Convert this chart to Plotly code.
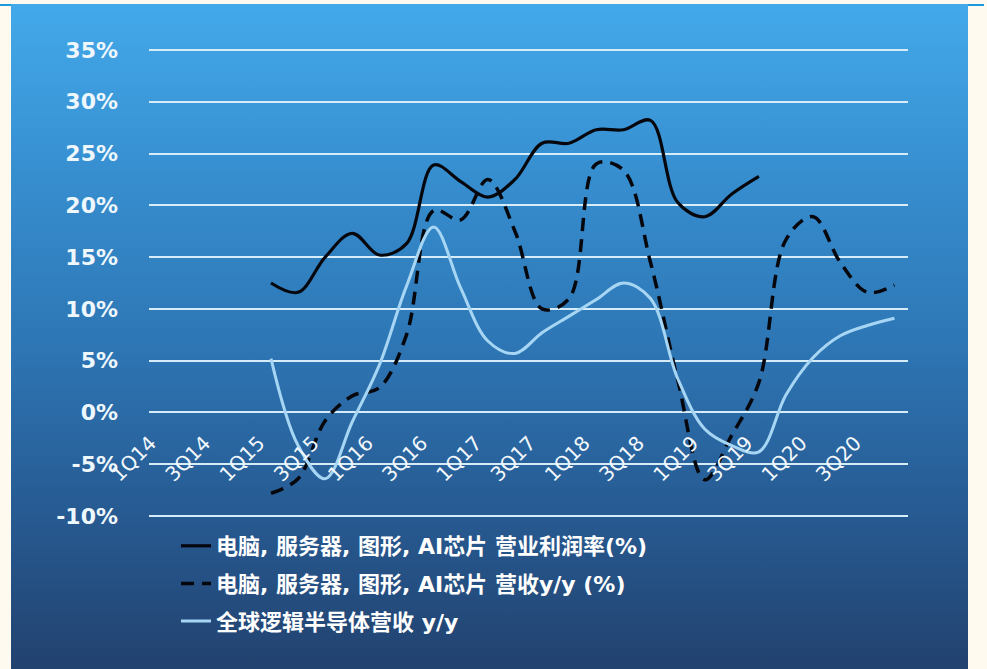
import base64
import plotly.graph_objects as go

# ---------------- data ----------------
quarters = ['1Q14', '2Q14', '3Q14', '4Q14', '1Q15', '2Q15', '3Q15', '4Q15',
            '1Q16', '2Q16', '3Q16', '4Q16', '1Q17', '2Q17', '3Q17', '4Q17',
            '1Q18', '2Q18', '3Q18', '4Q18', '1Q19', '2Q19', '3Q19', '4Q19',
            '1Q20', '2Q20', '3Q20', '4Q20']
tick_labels = ['1Q14', '3Q14', '1Q15', '3Q15', '1Q16', '3Q16', '1Q17',
               '3Q17', '1Q18', '3Q18', '1Q19', '3Q19', '1Q20', '3Q20']

op_margin = [None, None, None, None, 12.5, 11.6, 15.0, 17.3, 15.2, 16.3,
             23.9, 22.3, 20.8, 22.5, 26.0, 26.0, 27.3, 27.3, 28.2, 20.3,
             18.9, 21.1, 22.8, None, None, None, None, None]
rev_yoy = [None, None, None, None, -7.8, -6.4, -0.8, 1.6, 2.4, 7.5,
           19.5, 18.6, 22.5, 17.5, 10.0, 11.0, 24.0, 23.4, 14.5, 3.2,
           -6.5, -2.2, 2.9, 16.7, 18.9, 14.5, 11.6, 12.3]
logic_yoy = [None, None, None, None, 5.2, -3.2, -6.4, -0.9, 4.6, 12.2,
             17.9, 12.0, 6.9, 5.7, 7.7, 9.3, 10.9, 12.5, 11.0, 3.3,
             -1.6, -3.2, -3.8, 1.7, 5.3, 7.4, 8.4, 9.1]

names = ['电脑, 服务器, 图形, AI芯片 营业利润率(%)',
         '电脑, 服务器, 图形, AI芯片 营收y/y (%)',
         '全球逻辑半导体营收 y/y']
y_ticks = [-10, -5, 0, 5, 10, 15, 20, 25, 30, 35]

# ---------------- layout geometry (pixels) ----------------
W, H = 987, 669
L, R, T, B = 149, 79, 48, 151
PW, PH = W - L - R, H - T - B
# 35% sits at y=50px and -10% at y=516px
unit_px = (516 - 50) / (y_ticks[-1] - y_ticks[0])
y_range = [y_ticks[0] - (H - B - 516) / unit_px, y_ticks[-1] + (50 - T) / unit_px]


def px_x(x):
    return (x - L) / PW


def px_y(y):
    return (H - B - y) / PH


# gradient panel background as svg image
stops = [(0.0, '#43a9ea'), (0.25, '#378fd0'), (0.5, '#2e77b6'),
         (0.75, '#275c94'), (1.0, '#22426f')]
stop_xml = ''.join(f'<stop offset="{o}" stop-color="{c}"/>' for o, c in stops)
svg = ('<svg xmlns="http://www.w3.org/2000/svg" width="957" height="665" '
       'viewBox="0 0 957 665" preserveAspectRatio="none"><defs>'
       '<linearGradient id="g" x1="0" y1="0" x2="0" y2="1">' + stop_xml +
       '</linearGradient></defs><rect width="957" height="665" fill="url(#g)"/></svg>')
src = 'data:image/svg+xml;base64,' + base64.b64encode(svg.encode()).decode()

lat_font = 'DejaVu Sans, Verdana, sans-serif'
leg_font = 'DejaVu Sans, Noto Sans CJK SC, sans-serif'

fig = go.Figure()
fig.add_trace(go.Scatter(x=quarters, y=op_margin, name='<b>' + names[0] + '</b>',
                         mode='lines', line=dict(color='#05070d', width=3.2, shape='spline', smoothing=1),
                         legendgroup='a'))
fig.add_trace(go.Scatter(x=quarters, y=rev_yoy, name='<b>' + names[1] + '</b>',
                         mode='lines', line=dict(color='#05070d', width=3.5, dash='13px,8px',
                                                 shape='spline', smoothing=1),
                         legendgroup='b'))
fig.add_trace(go.Scatter(x=quarters, y=logic_yoy, name='<b>' + names[2] + '</b>',
                         mode='lines', line=dict(color='#a6d6f4', width=3, shape='spline', smoothing=1),
                         legendgroup='c'))

fig.update_layout(
    width=W, height=H,
    margin=dict(l=L, r=R, t=T, b=B, autoexpand=False),
    paper_bgcolor='#fffaf0',
    plot_bgcolor='rgba(0,0,0,0)',
    font=dict(family=lat_font, color='#eef7fc'),
    images=[dict(source=src, xref='paper', yref='paper',
                 x=px_x(11), y=px_y(4), sizex=px_x(968) - px_x(11), sizey=px_y(4) - px_y(669),
                 xanchor='left', yanchor='top', sizing='stretch', layer='below')],
    shapes=[
        dict(type='line', xref='paper', yref='paper', x0=px_x(0), x1=px_x(11),
             y0=px_y(5), y1=px_y(5), line=dict(color='#1a9be0', width=2)),
        dict(type='line', xref='paper', yref='paper', x0=px_x(968), x1=px_x(984),
             y0=px_y(5), y1=px_y(5), line=dict(color='#1a9be0', width=2)),
    ],
    xaxis=dict(type='category', categoryorder='array', categoryarray=quarters,
               range=[-0.5, len(quarters) - 0.5], showgrid=False, zeroline=False,
               showline=False, ticks='', tickmode='array', tickvals=tick_labels,
               ticktext=tick_labels, tickangle=-45,
               tickfont=dict(family=lat_font, size=20, color='#f2f8fc'),
               anchor='free', position=(0 - y_range[0]) / (y_range[1] - y_range[0]),
               ticklabelstandoff=14, ticklabelshift=-12),
    yaxis=dict(range=y_range, tickmode='array', tickvals=y_ticks,
               ticktext=[f'<b>{v}%</b>' for v in y_ticks],
               showgrid=True, gridcolor='#d6ecf8', gridwidth=2, zeroline=False,
               showline=False, ticks='', tickfont=dict(family=lat_font, size=22, color='#eef7fc'),
               ticklabelstandoff=30),
    legend=dict(x=px_x(176), y=px_y(525), xanchor='left', yanchor='top',
                bgcolor='rgba(0,0,0,0)', font=dict(family=leg_font, size=22, color='#ffffff'),
                tracegroupgap=6, itemwidth=30),
    showlegend=True,
)

fig.write_html('out.html', config={'displayModeBar': False},
               post_script="document.body.style.margin='0';")
